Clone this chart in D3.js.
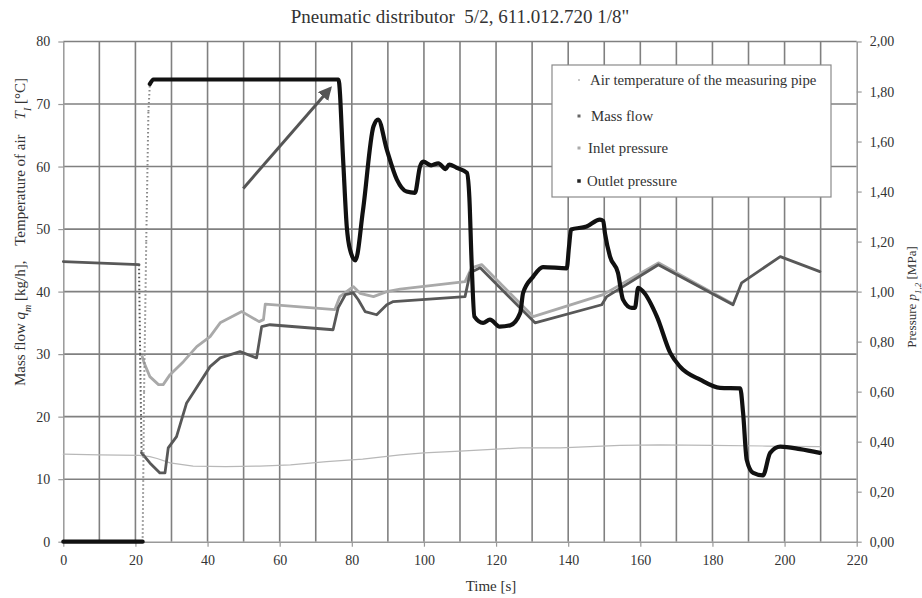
<!DOCTYPE html>
<html>
<head>
<meta charset="utf-8">
<script src="https://cdn.jsdelivr.net/npm/d3@7"></script>
<style>
html,body{margin:0;padding:0;background:#fff;}
svg{display:block;}
text{font-family:"Liberation Serif","DejaVu Serif",serif;fill:#333;}
</style>
</head>
<body>
<svg id="chart" width="922" height="598"></svg>
<script>
// ---- data ----
const titleText = "Pneumatic distributor  5/2, 611.012.720 1/8\"";
const xTicks = [0,20,40,60,80,100,120,140,160,180,200,220];
const yLeftTicks = [0,10,20,30,40,50,60,70,80];
const yRightTicks = [0,0.2,0.4,0.6,0.8,1.0,1.2,1.4,1.6,1.8,2.0];
const legendNames = ["Air temperature of the measuring pipe","Mass flow","Inlet pressure","Outlet pressure"];

// Air temperature [°C] (left axis)
const airT = [0,10,21,24,26,29.6,36,45,54.5,63,73,83,93.4,100,110,126.7,137.8,154.4,165.5,180,195,209.8];
const airV = [14,13.9,13.8,13.6,13.3,12.6,12.1,12.0,12.1,12.3,12.8,13.2,13.9,14.2,14.5,15.0,15.0,15.4,15.5,15.4,15.3,15.2];

// Mass flow [kg/h] (left axis)
const massT = [0,21,21.3,21.7,24,26.8,28.2,29.1,31.4,34.2,36,40.7,43.5,49,53.6,55,57.3,74.8,76.2,78.2,80.4,81.8,83.7,86.9,89.7,91.5,111.4,112.8,115.6,130.8,149.3,150.7,165,185.7,188.1,198.8,209.8];
const massV = [44.8,44.3,30,14.2,12.6,11,11,15,16.8,22.2,23.8,28,29.4,30.4,29.4,34.4,34.7,33.9,37.4,39.5,39.8,38.7,36.8,36.3,37.9,38.4,39.2,43,43.8,35,37.9,39.2,44.3,37.9,41.4,45.6,43.2];

// Inlet pressure [MPa] (right axis)
const inletT = [21.9,22.4,24,26.4,27.7,29.6,33.3,37,40.7,43.5,49.5,54.3,55.5,56,75.3,76.7,80.4,82.3,86,89.7,93.4,111.4,113.2,116,130.3,149.7,165,185.7];
const inletV = [0.74,0.715,0.66,0.628,0.628,0.668,0.72,0.78,0.82,0.875,0.92,0.88,0.888,0.95,0.928,0.98,1.02,0.993,0.98,1.0,1.01,1.04,1.095,1.108,0.90,0.988,1.115,0.951];

// Outlet pressure [MPa] (right axis)
const outletT = [0,22.0,22.4,23.0,23.6,24.0,25,76.3,77.6,78.6,79.5,81,83.1,86,87.3,89.7,92.5,95.2,97.5,98.9,99.8,102,104,106,107,109.1,111.9,112.6,113.2,114,116.4,118.3,121,123.9,126.7,127.5,130.3,133,139.6,140.2,140.8,145.1,148.8,149.7,150.2,151.6,153.8,155.2,157.6,158.5,159.4,160.8,164.6,168.3,171,176.6,182.1,187.7,188.5,189.5,191.3,194,196,198.8,204.3,209.8];
const outletV = [0,0,0.6,1.2,1.72,1.83,1.848,1.848,1.525,1.26,1.168,1.125,1.325,1.66,1.688,1.568,1.448,1.40,1.395,1.50,1.52,1.505,1.513,1.49,1.508,1.495,1.475,1.375,1.125,0.90,0.875,0.888,0.86,0.865,0.915,0.995,1.06,1.098,1.093,1.175,1.248,1.26,1.288,1.283,1.233,1.14,1.075,0.968,0.935,0.935,1.015,1.0,0.90,0.755,0.70,0.648,0.615,0.613,0.515,0.328,0.275,0.265,0.355,0.38,0.37,0.355];

// arrow annotation (time, left-axis value)
const arrowFrom = [49.9, 56.5];
const arrowTo = [74, 72.5];

// ---- layout ----
const svg = d3.select("#chart");
const L = 63.3, R = 856.7, T = 41.5, B = 541.7;
const x = d3.scaleLinear().domain([0,220]).range([L,R]);
const yL = d3.scaleLinear().domain([0,80]).range([B,T]);
const yR = d3.scaleLinear().domain([0,2]).range([B,T]);

// gridlines
const grid = svg.append("g");
grid.selectAll("line.v").data(d3.range(10,220,10)).join("line")
  .attr("x1",d=>x(d)).attr("x2",d=>x(d)).attr("y1",T).attr("y2",B)
  .attr("stroke","#808080").attr("stroke-width",1.6);
grid.selectAll("line.h").data(d3.range(10,90,10)).join("line")
  .attr("x1",L).attr("x2",R).attr("y1",d=>yL(d)).attr("y2",d=>yL(d))
  .attr("stroke","#808080").attr("stroke-width",1.6);

// axes
const axStyle = g => {
  g.selectAll("path.domain").attr("stroke","#999").attr("stroke-width",1.5);
  g.selectAll(".tick line").attr("stroke","#999").attr("stroke-width",1.2);
  g.selectAll(".tick text").attr("fill","#444").style("font-size","14px")
    .style("font-family","'Liberation Serif',serif");
};
svg.append("g").attr("transform",`translate(0,${B})`)
  .call(d3.axisBottom(x).tickValues(xTicks).tickSize(5).tickSizeOuter(0).tickPadding(8).tickFormat(d3.format("d")))
  .call(axStyle);
svg.append("g").attr("transform",`translate(${L},0)`)
  .call(d3.axisLeft(yL).tickValues(yLeftTicks).tickSize(5).tickSizeOuter(0).tickPadding(8).tickFormat(d3.format("d")))
  .call(axStyle);
svg.append("g").attr("transform",`translate(${R},0)`)
  .call(d3.axisRight(yR).tickValues(yRightTicks).tickSize(5).tickSizeOuter(0).tickPadding(8)
    .tickFormat(d=>d3.format(".2f")(d).replace(".",",")))
  .call(axStyle);

// series
function drawSeries(ts, vs, yScale, color, width, dotColor, curve) {
  const pts = ts.map((t,i)=>[x(t), yScale(vs[i])]);
  // split into solid runs and dotted steep jumps at valve opening
  const isDot = (a,b,i) => ts[i] >= 21 && ts[i+1] <= 24.2 &&
    Math.abs(b[1]-a[1]) > 20 && Math.abs(b[1]-a[1]) > 3*Math.abs(b[0]-a[0]);
  const solidLine = d3.line().curve(curve);
  const line = d3.line();
  let run = [pts[0]];
  const solids = [], dots = [];
  for (let i=0;i<pts.length-1;i++){
    if (isDot(pts[i],pts[i+1],i)) {
      if (run.length>1) solids.push(run);
      dots.push([pts[i],pts[i+1]]);
      run = [pts[i+1]];
    } else run.push(pts[i+1]);
  }
  if (run.length>1) solids.push(run);
  const g = svg.append("g");
  dots.forEach(d=>g.append("path").attr("d",line(d)).attr("fill","none")
    .attr("stroke",dotColor).attr("stroke-width",2).attr("stroke-dasharray","1.5,2.5"));
  solids.forEach(s=>g.append("path").attr("d",solidLine(s)).attr("fill","none")
    .attr("stroke",color).attr("stroke-width",width)
    .attr("stroke-linejoin","round").attr("stroke-linecap","round"));
}
drawSeries(airT, airV, yL, "#b8b8b8", 1.2, "#b8b8b8", d3.curveLinear);
drawSeries(inletT, inletV, yR, "#a9a9a9", 2.8, "#a9a9a9", d3.curveLinear);
drawSeries(massT, massV, yL, "#585858", 2.8, "#555", d3.curveLinear);
drawSeries(outletT, outletV, yR, "#111", 4.2, "#888", d3.curveMonotoneX);

// arrow
const defs = svg.append("defs");
defs.append("marker").attr("id","ah").attr("viewBox","0 0 10 10").attr("refX",8).attr("refY",5)
  .attr("markerWidth",4.5).attr("markerHeight",4.5).attr("orient","auto")
  .append("path").attr("d","M0,0 L10,5 L0,10 Z").attr("fill","#555");
svg.append("line")
  .attr("x1",x(arrowFrom[0])).attr("y1",yL(arrowFrom[1]))
  .attr("x2",x(arrowTo[0])).attr("y2",yL(arrowTo[1]))
  .attr("stroke","#555").attr("stroke-width",3).attr("marker-end","url(#ah)");

// legend
const lg = svg.append("g");
lg.append("rect").attr("x",552).attr("y",65).attr("width",279).attr("height",132)
  .attr("fill","#fff").attr("stroke","#8a8a8a").attr("stroke-width",1.2);
const legColors = ["#c8c8c8","#666","#aaa","#222"];
const legSizes = [2,3,3,3.5];
const legTextX = [590,591,588,587];
const legY = [80,116,148,181];
legendNames.forEach((n,i)=>{
  lg.append("rect").attr("x",579-legSizes[i]/2).attr("y",legY[i]-legSizes[i]/2)
    .attr("width",legSizes[i]).attr("height",legSizes[i]).attr("fill",legColors[i]);
  lg.append("text").attr("x",legTextX[i]).attr("y",legY[i]).attr("dy","0.35em")
    .style("font-size","14.8px").attr("fill","#333").text(n);
});

// title
svg.append("text").attr("x",460).attr("y",23).attr("text-anchor","middle")
  .style("font-size","19px").style("white-space","pre").attr("fill","#333").text(titleText);

// x label
svg.append("text").attr("x",491).attr("y",591).attr("text-anchor","middle")
  .style("font-size","15px").text("Time [s]");

// left y label
const ly = svg.append("text").attr("transform","translate(25,232) rotate(-90)")
  .attr("text-anchor","middle").style("font-size","15px").style("white-space","pre");
ly.append("tspan").text("Mass flow ");
ly.append("tspan").style("font-style","italic").text("q");
ly.append("tspan").attr("baseline-shift","sub").style("font-size","10px").style("font-style","italic").text("m");
ly.append("tspan").text(" [kg/h],    Temperature of air    ");
ly.append("tspan").style("font-style","italic").text("T");
ly.append("tspan").attr("baseline-shift","sub").style("font-size","10px").style("font-style","italic").text("I");
ly.append("tspan").text(" [°C]");

// right y label
const ry = svg.append("text").attr("transform","translate(916,297) rotate(-90)")
  .attr("text-anchor","middle").style("font-size","13px").style("white-space","pre");
ry.append("tspan").text("Pressure ");
ry.append("tspan").style("font-style","italic").text("p");
ry.append("tspan").attr("baseline-shift","sub").style("font-size","9px").style("font-style","italic").text("1,2");
ry.append("tspan").text(" [MPa]");
</script>
</body>
</html>
